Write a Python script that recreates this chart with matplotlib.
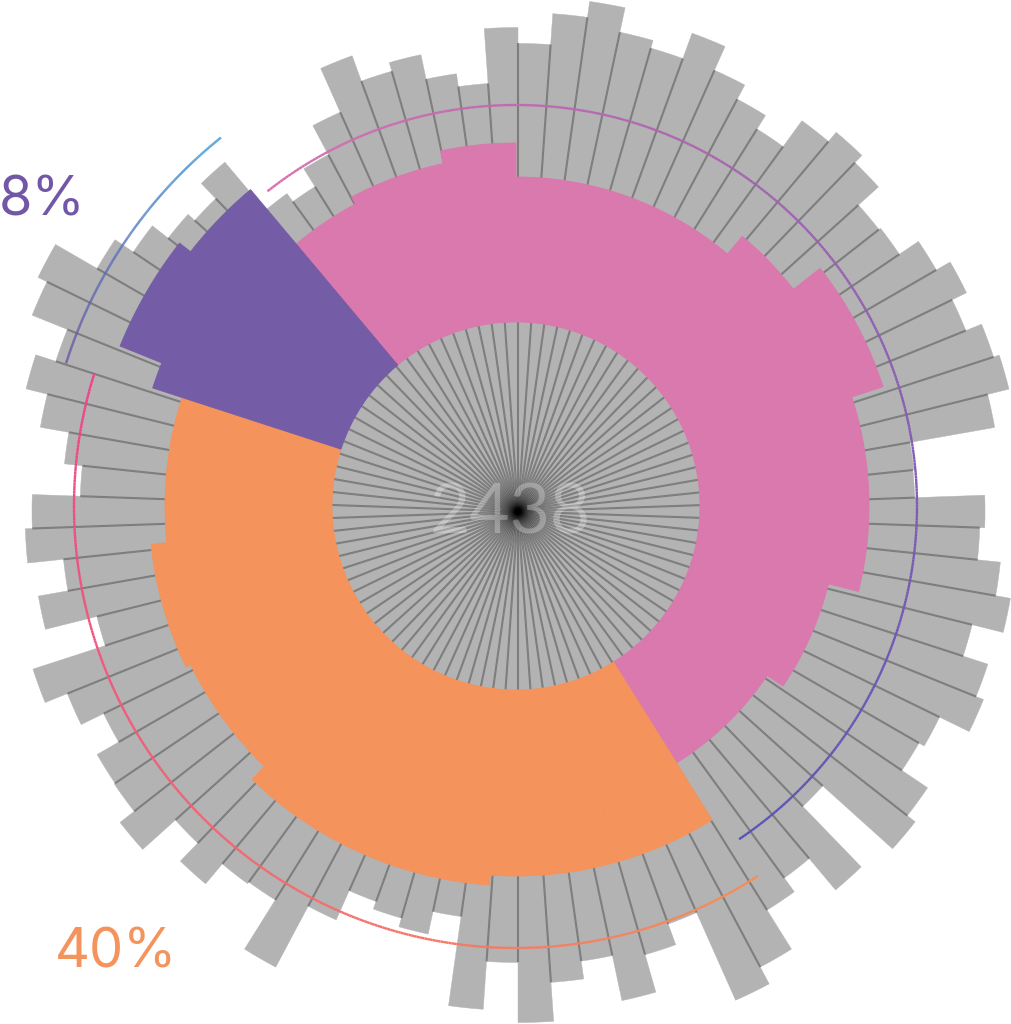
import numpy as np
import matplotlib
matplotlib.use('Agg')
import matplotlib.pyplot as plt
from matplotlib.collections import LineCollection
from matplotlib.colors import to_rgb

W, H, DPI = 1012, 1024, 100

# ---------------- data ----------------
# 90 radial bins, 4 degrees each, bin 0 starts at 130 deg (math angle) and runs clockwise
n_bins = 90
bin_deg = 4.0
start_deg = 130.0

# grey outer bar lengths (pixels from centre)
bar_len = [393, 383, 404, 437, 485, 458, 467, 442, 429, 484,
           468, 499, 515, 490, 482, 509, 483, 467, 451, 483,
           495, 485, 458, 460, 483, 499, 483, 500, 506, 484,
           398, 397, 467, 462, 485, 500, 468, 494, 502, 469,
           463, 494, 504, 410, 494, 453, 470, 516, 535, 439,
           461, 500, 454, 472, 511, 451, 499, 409, 432, 423,
           415, 447, 516, 458, 460, 486, 461, 505, 487, 486,
           461, 486, 510, 434, 487, 457, 493, 486, 438, 456,
           485, 507, 486, 524, 534, 486, 464, 444, 435, 456]

# coloured ring: segment sizes (bins) and outer radius per bin
seg_names = ['pink', 'orange', 'purple']
seg_counts = [47, 35, 8]
seg_colors = ['#d979ad', '#f4935c', '#745ca6']
ring_inner = 184
ring_len = ([342] * 3 + [350] * 4 + [363] * 3 + [329] * 10 + [352] * 3 +
            [386] * 5 + [353] * 8 + [322] * 5 + [303] * 6 +
            [370] * 9 + [380] * 10 + [362] * 5 + [367] * 5 + [351] * 6 +
            [382] + [427] * 4 + [413] * 3)

# gradient arcs: radius, start deg, end deg, start colour, end colour
arc_radius = [401, 442, 472]
arc_start = [128.3, 162.5, 128.7]
arc_end = [-56.2, 303.2, 162.4]
arc_c0 = ['#da70ae', '#ef4289', '#3a9ad8']
arc_c1 = ['#5553b5', '#f68e58', '#6d54a5']

label_texts = ['8%', '40%']
label_colors = ['#7257a6', '#f4935c']
center_label = '2438'

# ---------------- drawing ----------------
fig = plt.figure(figsize=(W / DPI, H / DPI), dpi=DPI, facecolor='white')
R = 545


def polar_ax(cx, cy):
    ax = fig.add_axes([(cx - R) / W, (H - cy - R) / H, 2 * R / W, 2 * R / H],
                      projection='polar')
    ax.set_theta_zero_location('E')
    ax.set_theta_direction(1)
    ax.set_ylim(0, R)
    ax.set_axis_off()
    ax.patch.set_alpha(0)
    return ax


ax_g = polar_ax(518, 511.5)
ax_c = polar_ax(516, 506)

w = np.deg2rad(bin_deg)
theta = np.deg2rad(start_deg - bin_deg * (np.arange(n_bins) + 0.5))

ax_g.bar(theta, bar_len, width=w, bottom=0, color='#b3b3b3',
         edgecolor='#b3b3b3', linewidth=0.3, zorder=1)

for k in range(n_bins):
    th = np.deg2rad(start_deg - bin_deg * k)
    L = min(bar_len[k - 1], bar_len[k])
    ax_g.plot([th, th], [0, L], color='black', alpha=0.3, lw=1.5,
              solid_capstyle='butt', zorder=2)

cols = []
for name, cnt, c in zip(seg_names, seg_counts, seg_colors):
    cols += [c] * cnt
ring_len = np.array(ring_len)
ax_c.bar(theta, ring_len - ring_inner, width=w, bottom=ring_inner, color=cols,
         edgecolor=cols, linewidth=0.6, zorder=3)


def grad_arc(ax, r, a0, a1, c0, c1, lw, n=400):
    t = np.deg2rad(np.linspace(a0, a1, n))
    pts = np.column_stack([t, np.full(n, float(r))])
    segs = np.stack([pts[:-1], pts[1:]], axis=1)
    c0 = np.array(to_rgb(c0))
    c1 = np.array(to_rgb(c1))
    f = np.linspace(0, 1, n - 1)[:, None]
    lc = LineCollection(segs, colors=c0 * (1 - f) + c1 * f, linewidths=lw,
                        capstyle='butt', zorder=4)
    ax.add_collection(lc)


for r, a0, a1, c0, c1 in zip(arc_radius, arc_start, arc_end, arc_c0, arc_c1):
    grad_arc(ax_c, r, a0, a1, c0, c1, 1.7)

lab_font = dict(family=['Inter', 'Lato', 'DejaVu Sans'], weight='normal')
fig.text(86 / W, 1 - 215 / H, label_texts[0], ha='right', va='baseline',
         fontsize=39, color=label_colors[0], **lab_font)
fig.text(55 / W, 1 - 968 / H, label_texts[1], ha='left', va='baseline',
         fontsize=39, color=label_colors[1], **lab_font)
fig.text(510 / W, 1 - 533 / H, center_label, ha='center', va='baseline',
         fontsize=50, color='white', alpha=0.28,
         family=['Lato', 'DejaVu Sans'], weight='normal')

fig.savefig('out.png', dpi=DPI, facecolor='white')
